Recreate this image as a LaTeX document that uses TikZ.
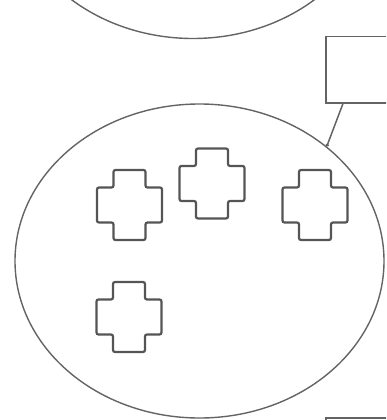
\documentclass[tikz,border=0pt]{standalone}
\usepackage{xcolor}
\usepackage{tikz}
\usetikzlibrary{arrows.meta,positioning,shapes.geometric}
\definecolor{edge}{HTML}{646464}
\definecolor{mark}{HTML}{555555}

\begin{document}
\begin{tikzpicture}[x=1pt,y=-1pt,
  blob/.style={draw=edge,line width=1.4pt,ellipse,minimum width=369pt,
               minimum height=314pt,inner sep=0pt},
  tile/.style={draw=edge,line width=1.5pt,minimum width=72pt,
               minimum height=66pt,inner sep=0pt},
  link/.style={-{Circle[length=3pt]},draw=edge,line width=1.5pt},
  plus/.pic={\draw[draw=mark,line width=2.2pt,rounded corners=2pt]
    (-16,-35) -- (16,-35) -- (16,-17.5) -- (32.5,-17.5) -- (32.5,17.5)
    -- (16,17.5) -- (16,35) -- (-16,35) -- (-16,17.5) -- (-32.5,17.5)
    -- (-32.5,-17.5) -- (-16,-17.5) -- cycle;}
]
\clip (0,0) rectangle (386,420);
\node[blob] (upper) at (193,-118.5) {};
\node[blob] (group) at (199.5,261) {};
\node[tile,anchor=north west] (unit) at (325,36) {};
\node[tile,anchor=north west] (next) at (325,417) {};
\foreach \cx/\cy in {129.5/205,212/183.5,315/205,129/317}
  \pic at (\cx,\cy) {plus};
\coordinate (hook) at (group.42);
\draw[link] (unit.south west) ++(18,0) coordinate (foot) -- (hook);
\end{tikzpicture}
\end{document}
